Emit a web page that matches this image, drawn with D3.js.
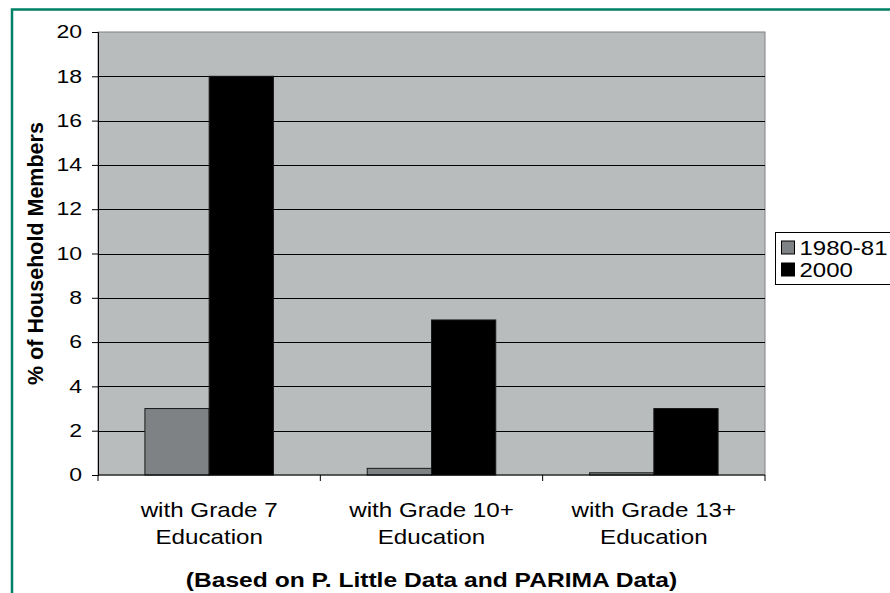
<!DOCTYPE html>
<html>
<head>
<meta charset="utf-8">
<script src="https://cdn.jsdelivr.net/npm/d3@7"></script>
<style>
	body { margin: 0; background: #fff; }
	text { font-family: "Liberation Sans", Arial, sans-serif; }
</style>
</head>
<body>
<div id="chart"></div>
<script>
var categories = [["with Grade 7", "Education"], ["with Grade 10+", "Education"], ["with Grade 13+", "Education"]];
var seriesNames = ["1980-81", "2000"];
var values1980 = [3, 0.3, 0.1];
var values2000 = [18, 7, 3];
var yTicks = [0, 2, 4, 6, 8, 10, 12, 14, 16, 18, 20];

//the source picture is stretched sideways, so text is widened to match
function stretchText(sel, s){
	sel.each(function(){
		var t = d3.select(this);
		var x = +t.attr("x") || 0;
		var y = +t.attr("y") || 0;
		t.attr("x", null).attr("y", null)
			.attr("transform", "translate(" + x + "," + y + ") scale(" + s + ",1)");
	});
}

function init(){
	var w = 890;
	var h = 593;
	var margin = {left: 98, top: 32, right: 125, bottom: 118};
	var pw = w - margin.left - margin.right;
	var ph = h - margin.top - margin.bottom;
	var colors = ["#7e8284", "#000000"];

	var svg = d3.select("#chart")
				.append("svg")
				.attr("width", w)
				.attr("height", h);

	//green frame
	svg.append("path")
		.attr("d", "M12,593 V9.5 H890")
		.attr("fill", "none")
		.attr("stroke", "#008066")
		.attr("stroke-width", 2.5);

	var g = svg.append("g")
				.attr("transform", "translate(" + margin.left + "," + margin.top + ")");

	var xScale = d3.scaleBand()
					.domain(d3.range(categories.length))
					.range([0, pw]);

	var xInner = d3.scaleBand()
					.domain(d3.range(seriesNames.length))
					.range([0, xScale.bandwidth()])
					.paddingOuter(0.73)
					.paddingInner(0);

	var yScale = d3.scaleLinear()
					.domain([0, 20])
					.range([ph, 0]);

	//plot area
	g.append("rect")
		.attr("width", pw)
		.attr("height", ph)
		.attr("fill", "#b8bcbd")
		.attr("stroke", "#808080")
		.attr("stroke-width", 1);

	//gridlines
	g.selectAll(".grid")
		.data(yTicks.filter(function(d){ return d > 0 && d < 20; }))
		.enter()
		.append("line")
		.attr("x1", 0)
		.attr("x2", pw)
		.attr("y1", function(d){ return Math.round(yScale(d)) + 0.5; })
		.attr("y2", function(d){ return Math.round(yScale(d)) + 0.5; })
		.attr("stroke", "#000")
		.attr("stroke-width", 1.2);

	var data = [values1980, values2000];
	var groups = g.selectAll(".series")
					.data(data)
					.enter()
					.append("g")
					.attr("fill", function(d, i){ return colors[i]; });

	groups.selectAll("rect")
		.data(function(d, si){ return d.map(function(v, ci){ return {v: v, s: si, c: ci}; }); })
		.enter()
		.append("rect")
		.attr("x", function(d){ return xScale(d.c) + xInner(d.s); })
		.attr("y", function(d){ return yScale(d.v); })
		.attr("width", xInner.bandwidth())
		.attr("height", function(d){ return ph - yScale(d.v); })
		.attr("stroke", "#1a1a1a")
		.attr("stroke-width", 1);

	//y axis
	var yAxis = d3.axisLeft(yScale)
					.tickValues(yTicks)
					.tickSize(6)
					.tickPadding(10);
	var ya = g.append("g").call(yAxis);
	ya.select(".domain").attr("stroke", "#000");
	ya.selectAll("line").attr("stroke", "#000");
	ya.selectAll("text")
		.attr("font-size", 18)
		.attr("fill", "#000")
		.style("font-family", "Liberation Sans, Arial, sans-serif")
		.call(stretchText, 1.28);

	//x axis
	var xa = g.append("g").attr("transform", "translate(0," + ph + ")");
	xa.append("line")
		.attr("x1", 0).attr("x2", pw)
		.attr("stroke", "#000");
	xa.selectAll(".tick")
		.data(d3.range(categories.length + 1))
		.enter()
		.append("line")
		.attr("x1", function(d){ return d * xScale.step(); })
		.attr("x2", function(d){ return d * xScale.step(); })
		.attr("y1", 0)
		.attr("y2", 6)
		.attr("stroke", "#000");

	var lines = [];
	categories.forEach(function(c, i){
		c.forEach(function(s, j){ lines.push({s: s, i: i, j: j}); });
	});
	xa.selectAll(".lab")
		.data(lines)
		.enter()
		.append("text")
		.attr("text-anchor", "middle")
		.attr("font-size", 20.5)
		.attr("fill", "#000")
		.attr("x", function(d){ return xScale(d.i) + xScale.bandwidth() / 2; })
		.attr("y", function(d){ return 42 + d.j * 27; })
		.text(function(d){ return d.s; })
		.call(stretchText, 1.18);

	//axis titles
	svg.append("text")
		.attr("transform", "translate(43," + (margin.top + ph / 2) + ") rotate(-90)")
		.attr("text-anchor", "middle")
		.attr("font-size", 21.5)
		.attr("font-weight", "bold")
		.text("% of Household Members");

	svg.append("text")
		.attr("x", margin.left + pw / 2)
		.attr("y", 587)
		.attr("text-anchor", "middle")
		.attr("font-size", 20)
		.attr("font-weight", "bold")
		.text("(Based on P. Little Data and PARIMA Data)")
		.call(stretchText, 1.23);

	//legend
	var lg = svg.append("g").attr("transform", "translate(775.5,232.5)");
	lg.append("rect")
		.attr("width", 130)
		.attr("height", 52)
		.attr("fill", "#fff")
		.attr("stroke", "#000");
	var items = lg.selectAll(".item")
					.data(seriesNames)
					.enter()
					.append("g")
					.attr("transform", function(d, i){ return "translate(6," + (15 + i * 22) + ")"; });
	items.append("rect")
		.attr("x", 0).attr("y", -6.5)
		.attr("width", 13).attr("height", 13)
		.attr("fill", function(d, i){ return colors[i]; })
		.attr("stroke", "#000");
	items.append("text")
		.attr("x", 18)
		.attr("y", 0)
		.attr("dy", "0.36em")
		.attr("font-size", 20)
		.text(function(d){ return d; })
		.call(stretchText, 1.2);
}

window.onload = init;
</script>
</body>
</html>
